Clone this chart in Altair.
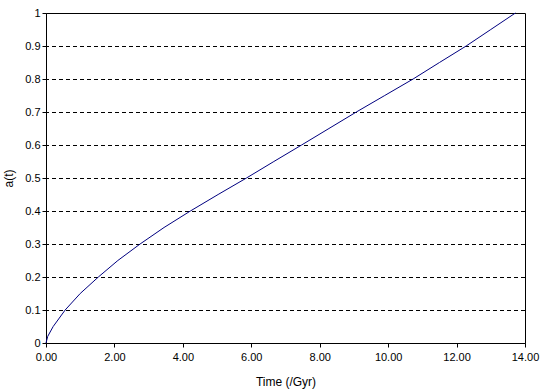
import altair as alt
import pandas as pd

# Values
time_gyr = [0.0, 0.05, 0.21, 0.56, 1.0, 1.53, 2.1, 2.75, 3.45, 4.22, 5.03, 5.86, 6.66, 7.47, 8.27, 9.07, 9.9, 10.73, 11.5, 12.28, 13.0, 13.72]
scale_a = [0.0, 0.02, 0.05, 0.10, 0.15, 0.20, 0.25, 0.30, 0.35, 0.40, 0.45, 0.50, 0.55, 0.60, 0.65, 0.70, 0.75, 0.80, 0.85, 0.90, 0.95, 1.00]
x_ticks = [0, 2, 4, 6, 8, 10, 12, 14]
y_ticks = [0, 0.1, 0.2, 0.3, 0.4, 0.5, 0.6, 0.7, 0.8, 0.9, 1.0]

df = pd.DataFrame({"t": time_gyr, "a": scale_a})
grid_df = pd.DataFrame({"g": y_ticks[1:-1]})

FONT = "Liberation Sans"

x_scale = alt.Scale(domain=[0, 14], nice=False, zero=False)
y_scale = alt.Scale(domain=[0, 1], nice=False)

y_axis = alt.Axis(values=y_ticks, format=".1~f", title="a(t)", grid=False,
                  tickSize=4, labelPadding=2, labelFlush=False, labelOverlap=False,
                  domainColor="black", tickColor="black",
                  labelFont=FONT, labelFontSize=11, labelColor="black",
                  titleFont=FONT, titleFontSize=12, titleFontWeight="normal", titleColor="black",
                  titleX=-38, titleY=165, titleAngle=-90, titleBaseline="middle")

x_axis = alt.Axis(values=x_ticks, format=".2f", title="Time (/Gyr)", grid=False,
                  tickSize=4, labelPadding=4, labelFlush=False, labelOverlap=False,
                  domainColor="black", tickColor="black",
                  labelFont=FONT, labelFontSize=11, labelColor="black",
                  titleFont=FONT, titleFontSize=12, titleFontWeight="normal", titleColor="black",
                  titleX=239.5, titleY=38, titleBaseline="middle")

grid = alt.Chart(grid_df).mark_rule(color="black", strokeWidth=1, strokeDash=[4, 3], yOffset=0.5).encode(
    y=alt.Y("g:Q", scale=y_scale, axis=y_axis)
)

line = alt.Chart(df).mark_line(color="#000080", strokeWidth=1).encode(
    x=alt.X("t:Q", scale=x_scale, axis=x_axis),
    y=alt.Y("a:Q", scale=y_scale, axis=y_axis),
)

chart = (grid + line).properties(
    width=479, height=330,
    autosize=alt.AutoSizeParams(type="none"),
    padding={"left": 46, "top": 13, "right": 15, "bottom": 48},
    background="white",
).configure_view(stroke="black", strokeWidth=1)

chart.save("out.html", embed_options={"renderer": "svg", "actions": False})
